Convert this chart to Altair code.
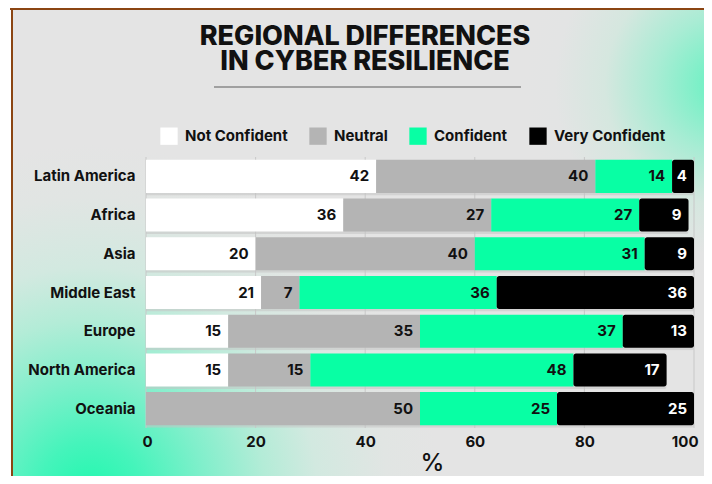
import altair as alt
import pandas as pd

regions = ["Latin America", "Africa", "Asia", "Middle East", "Europe", "North America", "Oceania"]
categories = ["Not Confident", "Neutral", "Confident", "Very Confident"]
not_confident = [42, 36, 20, 21, 15, 15, 0]
neutral = [40, 27, 40, 7, 35, 15, 50]
confident = [14, 27, 31, 36, 37, 48, 25]
very_confident = [4, 9, 9, 36, 13, 17, 25]
colors = ["#ffffff", "#b4b4b4", "#08ffa4", "#000000"]
x_ticks = [0, 20, 40, 60, 80, 100]
title_lines = "REGIONAL DIFFERENCES\nIN CYBER RESILIENCE"

series = [not_confident, neutral, confident, very_confident]
rows = []
for ci, (cat, vals) in enumerate(zip(categories, series)):
    for r, v in zip(regions, vals):
        rows.append({"region": r, "category": cat, "order": ci, "value": v})
df = pd.DataFrame(rows)
ticks_df = pd.DataFrame({"tick": x_ticks})
one = pd.DataFrame({"k": [0]})

FONT = "Inter"
W, H = 548, 271

x_scale = alt.Scale(domain=[0, 100], nice=False, zero=True)
y_scale = alt.Scale(domain=regions, paddingInner=0.147, paddingOuter=0.074)
color_scale = alt.Scale(domain=categories, range=colors)

# background pieces (pixel positions relative to plot origin)
base_bg = alt.Chart(one).mark_rect(color="#e4e4e4").encode(
    x=alt.value(-135), x2=alt.value(720), y=alt.value(-149), y2=alt.value(340)
)

grad_bl = alt.Chart(one).mark_rect(
    fill=alt.RadialGradient(
        gradient="radial",
        x1=0.5, y1=0.5, r1=0, x2=0.5, y2=0.5, r2=0.5,
        stops=[
            alt.GradientStop(offset=0, color="#20f8ae"),
            alt.GradientStop(offset=0.15, color="#45f4bb"),
            alt.GradientStop(offset=0.33, color="#80efcb"),
            alt.GradientStop(offset=0.5, color="#b3ecd7"),
            alt.GradientStop(offset=0.65, color="#d2e9e0"),
            alt.GradientStop(offset=0.85, color="#e1e5e3"),
            alt.GradientStop(offset=1, color="#e4e4e4"),
        ],
    )
).encode(x=alt.value(-406), x2=alt.value(294), y=alt.value(-12), y2=alt.value(688))

grad_tr = alt.Chart(one).mark_rect(
    fill=alt.RadialGradient(
        gradient="radial",
        x1=0.5, y1=0.5, r1=0, x2=0.5, y2=0.5, r2=0.5,
        stops=[
            alt.GradientStop(offset=0, color="#6ff3c3"),
            alt.GradientStop(offset=0.12, color="#7af0c7"),
            alt.GradientStop(offset=0.35, color="#a9ecd4"),
            alt.GradientStop(offset=0.6, color="#d5e7df"),
            alt.GradientStop(offset=0.85, color="#e3e4e4"),
            alt.GradientStop(offset=1, color="#e4e4e4"),
        ],
    )
).encode(x=alt.value(379), x2=alt.value(779), y=alt.value(-272), y2=alt.value(128))

white_strip = alt.Chart(one).mark_rect(color="#ffffff").encode(
    x=alt.value(-140), x2=alt.value(-135), y=alt.value(-160), y2=alt.value(340)
)

border_top = alt.Chart(one).mark_rule(color="#8b4513", strokeWidth=2).encode(
    x=alt.value(-136), x2=alt.value(720), y=alt.value(-148)
)
border_left = alt.Chart(one).mark_rule(color="#8b4513", strokeWidth=2).encode(
    x=alt.value(-134), y=alt.value(-149), y2=alt.value(340)
)

title_text = alt.Chart(one).mark_text(
    text=title_lines, lineBreak="\n", lineHeight=25, font=FONT, fontSize=27,
    fontWeight=800, color="#111111", align="center", baseline="alphabetic"
).encode(x=alt.value(219), y=alt.value(-112))

title_rule = alt.Chart(one).mark_rule(color="#8a8a8a", strokeWidth=1.5).encode(
    x=alt.value(68), x2=alt.value(375), y=alt.value(-70)
)

grid = alt.Chart(ticks_df).mark_rule(color="#c8c8c8", strokeWidth=1).encode(
    x=alt.X("tick:Q", scale=x_scale,
            axis=alt.Axis(values=x_ticks, grid=False, ticks=False, domain=False,
                          labelFont=FONT, labelFontSize=15, labelFontWeight="bold",
                          labelColor="#111111", labelPadding=6,
                          labelFlush=True, labelFlushOffset=4,
                          title="%", titleFont=FONT, titleFontSize=24,
                          titleFontWeight=500, titleColor="#111111",
                          titlePadding=2, titleX=286, zindex=1))
)

stacked = alt.Chart(df).transform_stack(
    stack="value", groupby=["region"], as_=["x0", "x1"],
    sort=[alt.SortField("order", order="ascending")]
)

y_enc = alt.Y("region:N", scale=y_scale, sort=regions,
              axis=alt.Axis(title=None, ticks=False, domain=False, grid=False,
                            labelFont=FONT, labelFontSize=15, labelFontWeight="bold",
                            labelColor="#111111", labelPadding=11, zindex=1))

shadow = alt.Chart(df).transform_aggregate(
    total="sum(value)", groupby=["region"]
).mark_bar(color="#c4c4c4", opacity=0.55, yOffset=2.5, y2Offset=2.5, cornerRadiusEnd=2).encode(
    x=alt.X("total:Q", scale=x_scale), y=y_enc
)

legend = alt.Legend(title=None, orient="none", direction="horizontal",
                    legendX=14, legendY=-30, symbolType="square", symbolSize=300,
                    symbolStrokeWidth=0, labelFont=FONT, labelFontSize=15,
                    labelFontWeight="bold", labelColor="#111111", labelOffset=7,
                    columnPadding=21)

color_enc = alt.Color("category:N", scale=color_scale, sort=categories, legend=legend)

bars_main = stacked.transform_filter(alt.datum.category != "Very Confident").mark_bar().encode(
    x=alt.X("x0:Q", scale=x_scale), x2="x1:Q", y=y_enc, color=color_enc
)
bars_end = stacked.transform_filter(alt.datum.category == "Very Confident").mark_bar(
    cornerRadiusEnd=2.5
).encode(
    x=alt.X("x0:Q", scale=x_scale), x2="x1:Q", y=y_enc, color=color_enc
)

labels = stacked.transform_filter(alt.datum.value > 0).mark_text(
    align="right", baseline="middle", dx=-7, font=FONT, fontSize=15, fontWeight="bold"
).encode(
    x=alt.X("x1:Q", scale=x_scale),
    y=y_enc,
    text="value:Q",
    color=alt.condition(alt.datum.category == "Very Confident",
                        alt.value("#ffffff"), alt.value("#111111")),
)

chart = alt.layer(
    base_bg, grad_bl, grad_tr, white_strip, border_top, border_left,
    title_text, title_rule, grid, shadow, bars_main, bars_end, labels
).properties(
    width=W, height=H,
    padding={"left": 138, "top": 149, "right": 10, "bottom": 48},
    autosize=alt.AutoSizeParams(type="none"),
).configure(background="#ffffff").configure_view(stroke=None)

chart.save("out.html", embed_options={"renderer": "svg", "actions": False})
